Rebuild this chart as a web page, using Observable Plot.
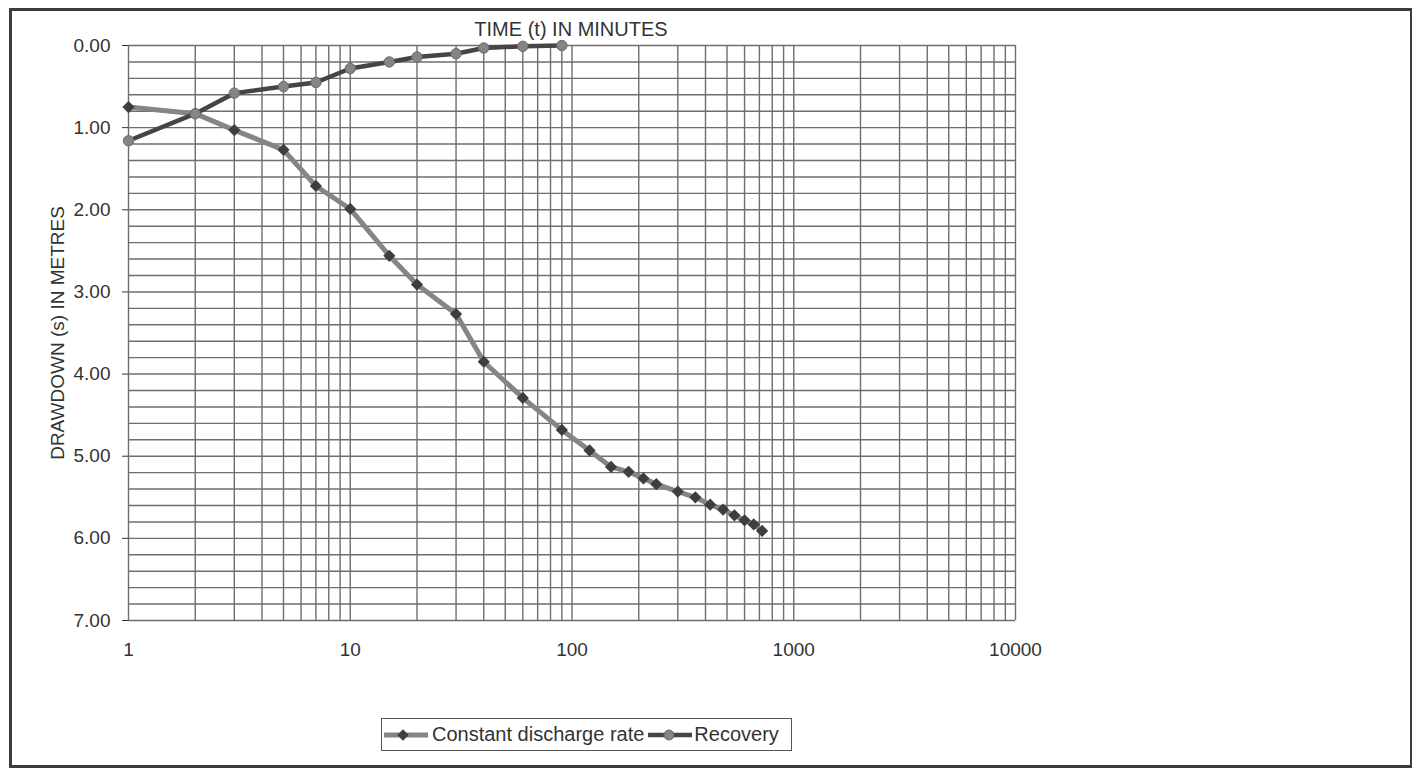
<!DOCTYPE html>
<html>
<head>
<meta charset="utf-8">
<script src="https://cdn.jsdelivr.net/npm/d3@7"></script>
<script src="https://cdn.jsdelivr.net/npm/@observablehq/plot@0.6"></script>
<style>
  html, body { margin: 0; padding: 0; background: #fff; }
  body { width: 1413px; height: 771px; overflow: hidden; position: relative;
         font-family: "Liberation Sans", Arial, sans-serif; color: #333; }
  #frame { position: absolute; left: 9px; top: 8px; width: 1398px; height: 754px;
           border: 3px solid #3c3c3c; border-right-width: 2px; }
  #chart { position: absolute; left: 0; top: 0; }
  #title { position: absolute; left: 471px; top: 19px; width: 200px; text-align: center;
           font-size: 20px; line-height: 20px; white-space: nowrap; color: #333; }
  #legend { position: absolute; left: 381px; top: 718px; width: 409px; height: 31px;
            border: 1.5px solid #555; display: flex; align-items: center;
            font-size: 20px; white-space: nowrap; color: #333; }
  #legend svg { display: block; }
</style>
</head>
<body>
<div id="frame"></div>
<div id="chart"></div>
<div id="title">TIME (t) IN MINUTES</div>
<div id="legend"></div>
<script>
// ---- data ----
const constantTimes = [1, 2, 3, 5, 7, 10, 15, 20, 30, 40, 60, 90, 120, 150, 180, 210, 240, 300, 360, 420, 480, 540, 600, 660, 720];
const constantDrawdown = [0.75, 0.83, 1.03, 1.27, 1.71, 1.99, 2.56, 2.91, 3.27, 3.85, 4.29, 4.68, 4.93, 5.13, 5.19, 5.27, 5.34, 5.43, 5.50, 5.59, 5.65, 5.72, 5.78, 5.83, 5.91];
const recoveryTimes = [1, 2, 3, 5, 7, 10, 15, 20, 30, 40, 60, 90];
const recoveryDrawdown = [1.16, 0.83, 0.58, 0.50, 0.45, 0.28, 0.20, 0.14, 0.10, 0.03, 0.01, 0.00];
const xTickValues = [1, 10, 100, 1000, 10000];
const yTickValues = [0, 1, 2, 3, 4, 5, 6, 7];
const decades = [1, 10, 100, 1000];
const minorSteps = [1, 2, 3, 4, 5, 6, 7, 8, 9];
const seriesNames = ["Constant discharge rate", "Recovery"];

// tables built from arrays
const constantData = constantTimes.map((t, i) => ({t, s: constantDrawdown[i]}));
const recoveryData = recoveryTimes.map((t, i) => ({t, s: recoveryDrawdown[i]}));
const gridX = decades.flatMap(d => minorSteps.map(m => d * m)).concat([10000]);
const gridY = d3.range(0, 36).map(i => i / 5);

const constLineColor = "#858585", constMarkColor = "#3e3e3e";
const recLineColor = "#454545", recMarkColor = "#858585";

const chart = Plot.plot({
  width: 1413,
  height: 680,
  marginLeft: 128,
  marginRight: 398,
  marginTop: 45,
  marginBottom: 60,
  x: {type: "log", domain: [1, 10000]},
  y: {domain: [0, 7], reverse: true},
  style: {fontFamily: "'Liberation Sans', Arial, sans-serif", fontSize: "19px", color: "#333", background: "transparent"},
  marks: [
    Plot.ruleX(gridX, {stroke: "#6e6e6e", strokeWidth: 1.4}),
    Plot.ruleY(gridY, {stroke: "#6e6e6e", strokeWidth: 1.4}),
    Plot.axisY({ticks: yTickValues, tickFormat: d => d.toFixed(2), tickSize: 6, tickPadding: 12,
                label: "DRAWDOWN (s) IN METRES", labelAnchor: "center", labelArrow: "none", labelOffset: 78}),
    Plot.axisX({ticks: xTickValues, tickFormat: d => String(d), tickSize: 0, tickPadding: 22, label: null}),
    Plot.line(constantData, {x: "t", y: "s", stroke: constLineColor, strokeWidth: 5}),
    Plot.dot(constantData, {x: "t", y: "s", symbol: "diamond2", r: 5.5, fill: constMarkColor}),
    Plot.line(recoveryData, {x: "t", y: "s", stroke: recLineColor, strokeWidth: 4.5}),
    Plot.dot(recoveryData, {x: "t", y: "s", symbol: "circle", r: 5.2, fill: recMarkColor, stroke: "#6a6a6a", strokeWidth: 1})
  ]
});
document.getElementById("chart").appendChild(chart);

// legend
const legend = d3.select("#legend");
function swatch(kind) {
  const w = 46, h = 20;
  const svg = legend.append("svg").attr("width", w).attr("height", h);
  if (kind === 0) {
    svg.append("line").attr("x1", 2).attr("x2", w).attr("y1", h/2).attr("y2", h/2)
      .attr("stroke", constLineColor).attr("stroke-width", 5);
    svg.append("rect").attr("x", -4).attr("y", -4).attr("width", 8).attr("height", 8)
      .attr("transform", `translate(${w/2 - 2},${h/2}) rotate(45)`).attr("fill", constMarkColor);
  } else {
    svg.append("line").attr("x1", 2).attr("x2", w).attr("y1", h/2).attr("y2", h/2)
      .attr("stroke", recLineColor).attr("stroke-width", 4.5);
    svg.append("circle").attr("cx", w/2).attr("cy", h/2).attr("r", 5)
      .attr("fill", recMarkColor).attr("stroke", "#6a6a6a");
  }
}
swatch(0);
legend.append("span").style("margin-left", "4px").style("margin-right", "2px").text(seriesNames[0]);
swatch(1);
legend.append("span").style("margin-left", "2px").text(seriesNames[1]);
</script>
</body>
</html>
